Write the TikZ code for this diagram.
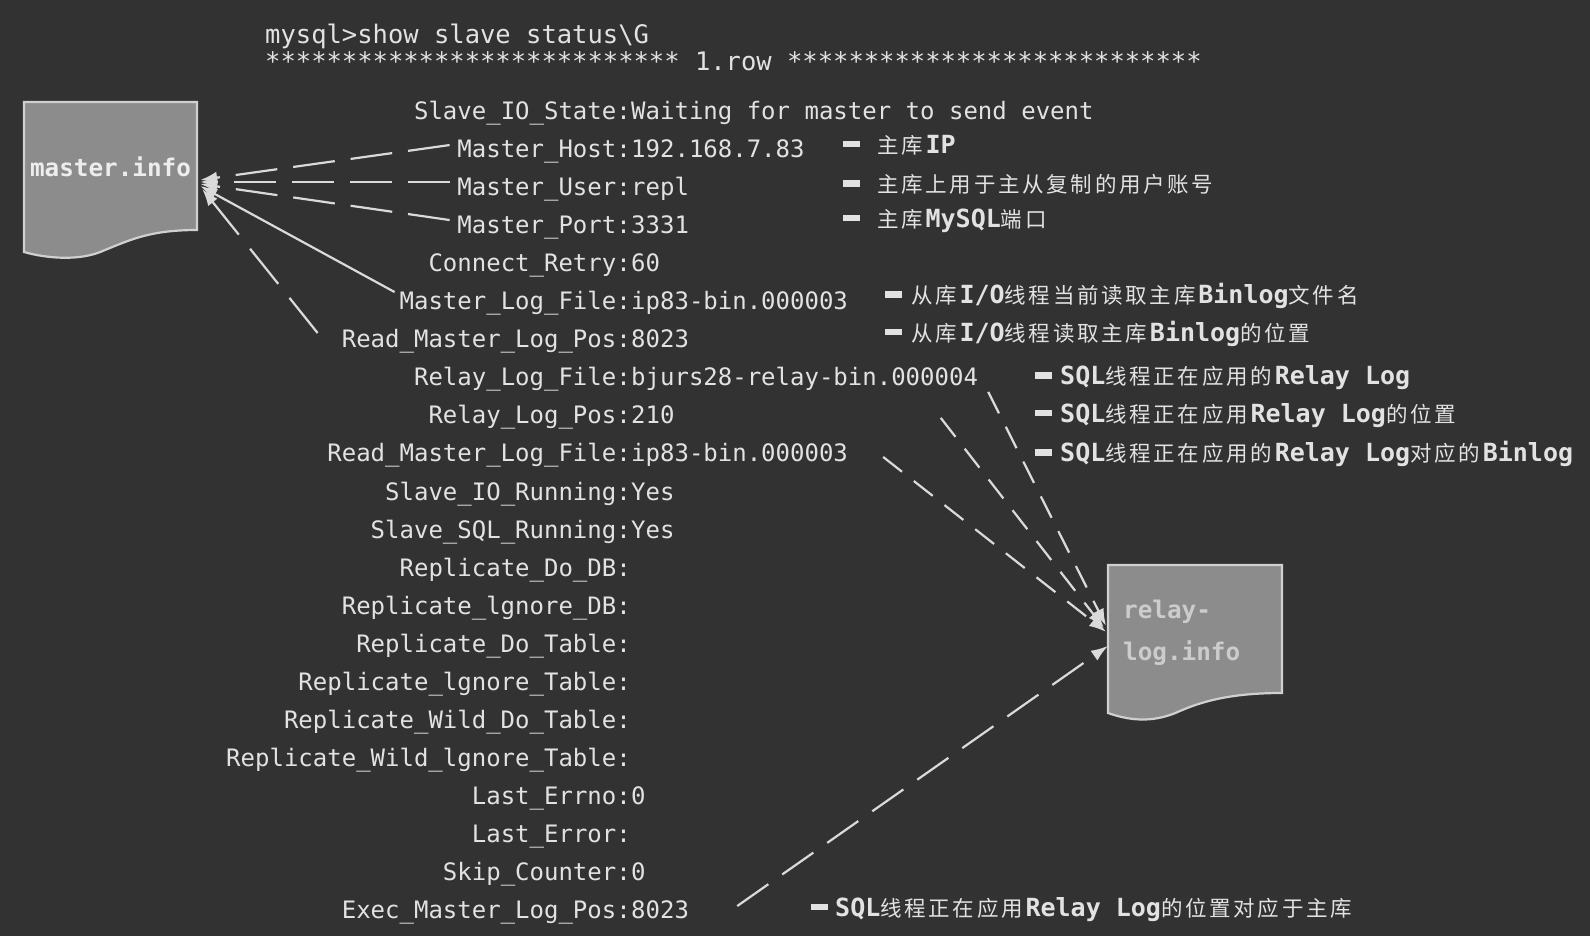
\documentclass[tikz,border=0pt]{standalone}
\usepackage{fontspec}
\newfontfamily\mono{DejaVu Sans Mono}
\newfontfamily\cjk{Noto Sans CJK SC}
\usetikzlibrary{arrows.meta,calc}
\definecolor{bg}{HTML}{323232}
\definecolor{txt}{HTML}{E2E2E2}
\definecolor{boxfill}{HTML}{8C8C8C}
\definecolor{boxline}{HTML}{D0D0D0}
\definecolor{arr}{HTML}{DADADA}
\def\cjloop#1{\ifx\relax#1\else#1\hspace{2.7pt}\expandafter\cjloop\fi}
\newcommand\cj[1]{{\cjk\mdseries\fontsize{21.5}{25}\selectfont\cjloop#1\relax}}
\newcommand\dashmark[1]{\rule[6pt]{17pt}{6.5pt}\hspace{#1pt}}
\tikzset{
  lbl/.style={anchor=base east, inner sep=0pt, text=txt, font=\mono\fontsize{24}{28}\selectfont},
  val/.style={anchor=base west, inner sep=0pt, text=txt, font=\mono\fontsize{24}{28}\selectfont},
  anno/.style={anchor=base west, inner sep=0pt, text=txt, font=\mono\bfseries\fontsize{25}{30}\selectfont},
  titletext/.style={anchor=base west, inner sep=0pt, text=txt, font=\mono\fontsize{25.5}{30}\selectfont},
  docshape/.style={fill=boxfill, draw=boxline, line width=2.2pt},
  conn/.style={draw=arr, line width=2.2pt, -{Latex[length=17pt,width=12pt]}},
  longdash/.style={conn, dash pattern=on 42pt off 16pt},
  longerdash/.style={conn, dash pattern=on 45pt off 18pt},
  shortdash/.style={conn, dash pattern=on 24pt off 15pt},
  middash/.style={conn, dash pattern=on 38pt off 17pt}
}
\newcommand\mrow[3]{%
  \node[lbl] (l#1) at (631,{119.5+38.05*#1}) {#2};
  \node[val] (v#1) at (631,{119.5+38.05*#1}) {#3};}
\newcommand\mlbl[2]{%
  \node[lbl] (l#1) at (631,{119.5+38.05*#1}) {#2};}
\begin{document}
\begin{tikzpicture}[x=1pt,y=-1pt]
\useasboundingbox (0,0) rectangle (1590,936);
\fill[bg] (0,0) rectangle (1590,936);

% document shapes
\draw[docshape] (24,102) -- (197,102) -- (197,230)
  .. controls (150,230) and (130,240) .. (105,250)
  .. controls (80,262) and (45,258) .. (24,252) -- cycle;
\draw[docshape] (1108,565) -- (1282,565) -- (1282,693)
  .. controls (1235,693) and (1205,700) .. (1180,711)
  .. controls (1152,724) and (1128,720) .. (1108,713) -- cycle;

\node[inner sep=0pt, anchor=base, minimum width=173pt, text=white!93!black,
  font=\mono\bfseries\fontsize{24.3}{28}\selectfont] (minfo) at (110.5,177) {master.info};
\node[inner sep=0pt, anchor=north west, text width=150pt, align=left, text=white!80!black,
  font=\mono\bfseries\fontsize{24.3}{42}\selectfont] (rinfo) at (1123,599.5) {relay-\\log.info};

% title
\node[titletext] (t1) at (265,44) {mysql>show slave status\textbackslash G};
\node[titletext] (t2) at (265,71) {*************************** 1.row ***************************};

% rows
\mrow{0}{Slave\_IO\_State:}{Waiting for master to send event}
\mrow{1}{Master\_Host:}{192.168.7.83}
\mrow{2}{Master\_User:}{repl}
\mrow{3}{Master\_Port:}{3331}
\mrow{4}{Connect\_Retry:}{60}
\mrow{5}{Master\_Log\_File:}{ip83-bin.000003}
\mrow{6}{Read\_Master\_Log\_Pos:}{8023}
\mrow{7}{Relay\_Log\_File:}{bjurs28-relay-bin.000004}
\mrow{8}{Relay\_Log\_Pos:}{210}
\mrow{9}{Read\_Master\_Log\_File:}{ip83-bin.000003}
\mrow{10}{Slave\_IO\_Running:}{Yes}
\mrow{11}{Slave\_SQL\_Running:}{Yes}
\mlbl{12}{Replicate\_Do\_DB:}
\mlbl{13}{Replicate\_lgnore\_DB:}
\mlbl{14}{Replicate\_Do\_Table:}
\mlbl{15}{Replicate\_lgnore\_Table:}
\mlbl{16}{Replicate\_Wild\_Do\_Table:}
\mlbl{17}{Replicate\_Wild\_lgnore\_Table:}
\mrow{18}{Last\_Errno:}{0}
\mlbl{19}{Last\_Error:}
\mrow{20}{Skip\_Counter:}{0}
\mrow{21}{Exec\_Master\_Log\_Pos:}{8023}

% annotations
\node[anno] (a1) at (843,153.5) {\dashmark{17}\cj{主库}IP};
\node[anno] (a2) at (843,193) {\dashmark{17}\cj{主库上用于主从复制的用户账号}};
\node[anno] (a3) at (843,227.5) {\dashmark{17}\cj{主库}MySQL\cj{端口}};
\node[anno] (a4) at (885,303.5) {\dashmark{9}\cj{从库}I/O\cj{线程当前读取主库}Binlog\cj{文件名}};
\node[anno] (a5) at (885,341) {\dashmark{9}\cj{从库}I/O\cj{线程读取主库}Binlog\cj{的位置}};
\node[anno] (a6) at (1035,384.5) {\dashmark{8}SQL\cj{线程正在应用的}Relay Log};
\node[anno] (a7) at (1035,422) {\dashmark{8}SQL\cj{线程正在应用}Relay Log\cj{的位置}};
\node[anno] (a8) at (1035,461.5) {\dashmark{8}SQL\cj{线程正在应用的}Relay Log\cj{对应的}Binlog};
\node[anno] (a9) at (811,916) {\dashmark{7}SQL\cj{线程正在应用}Relay Log\cj{的位置对应于主库}};

% connectors to master.info
\draw[longdash] ($(l1.base west)+(-7.6,-12.5)$) -- ($(minfo.base east)+(3,3)$);
\draw[longdash] ($(l2.base west)+(-7.6,-13.6)$) -- ($(minfo.base east)+(3,5)$);
\draw[longdash] ($(l3.base west)+(-7.6,-13.6)$) -- ($(minfo.base east)+(3,7)$);
\draw[conn] ($(l5.base west)+(-4.8,-17.7)$) -- ($(minfo.base east)+(3,9)$);
\draw[longerdash] ($(l6.base west)+(-24,-14.8)$) -- ($(minfo.base east)+(5,12)$);

% connectors to relay-log.info
\draw[shortdash] ($(v7.base east)+(10,6)$) -- ($(rinfo.west)+(-17,-6.6)$);
\draw[shortdash] ($(v8.base east)+(266,-6)$) -- ($(rinfo.west)+(-19,-4.6)$);
\draw[shortdash] ($(v9.base east)+(35,-5)$) -- ($(rinfo.west)+(-17,-0.6)$);
\draw[middash] ($(v21.base east)+(48,-12.5)$) -- ($(rinfo.west)+(-15,13.4)$);
\end{tikzpicture}
\end{document}
